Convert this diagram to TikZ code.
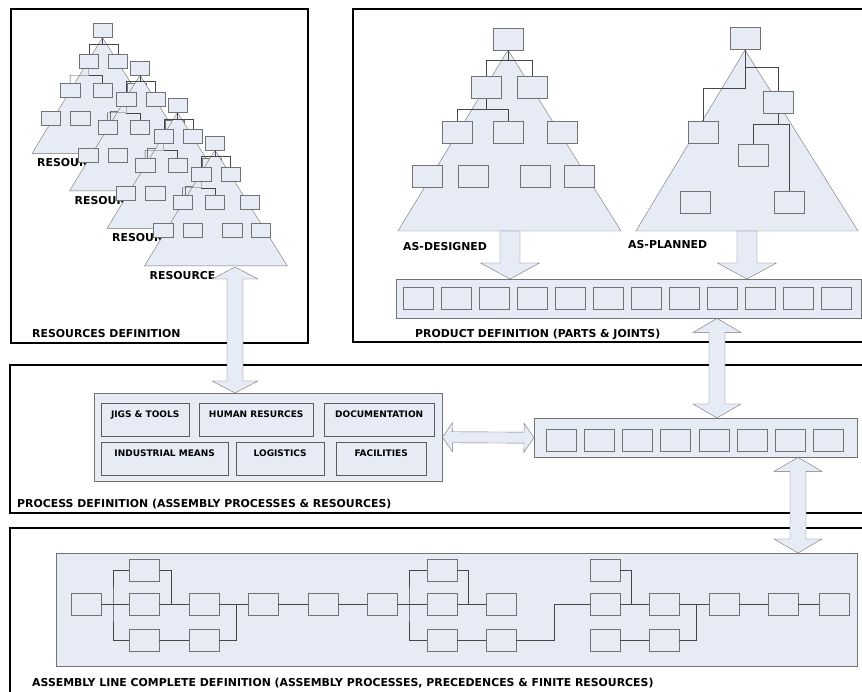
\documentclass[tikz,border=0pt]{standalone}
\usepackage{fontspec}
\setmainfont{DejaVu Sans}
\usetikzlibrary{calc}
\definecolor{pale}{RGB}{230,235,246}
\definecolor{edgegray}{RGB}{115,115,115}
\definecolor{linkgray}{RGB}{70,70,70}
\newcommand{\onefat}[5]{%
  \path (#1) coordinate (fa) (#2) coordinate (fb);
  \path ($(fb)!#5!(fa)$) coordinate (fc);
  \draw[fat] ($(fa)!#3!90:(fb)$) -- ($(fc)!#3!-90:(fa)$) -- ($(fc)!#4!-90:(fa)$) -- (fb)
    -- ($(fc)!#4!90:(fa)$) -- ($(fc)!#3!90:(fa)$) -- ($(fa)!#3!-90:(fb)$) -- cycle;}
\newcommand{\dblfat}[5]{%
  \path (#1) coordinate (fa) (#2) coordinate (fb);
  \path ($(fa)!#5!(fb)$) coordinate (fc) ($(fb)!#5!(fa)$) coordinate (fd);
  \draw[fat] (fa) -- ($(fc)!#4!90:(fb)$) -- ($(fc)!#3!90:(fb)$) -- ($(fd)!#3!-90:(fa)$)
    -- ($(fd)!#4!-90:(fa)$) -- (fb) -- ($(fd)!#4!90:(fa)$) -- ($(fd)!#3!90:(fa)$)
    -- ($(fc)!#3!-90:(fb)$) -- ($(fc)!#4!-90:(fb)$) -- cycle;}
\tikzset{box/.style={draw=edgegray, fill=pale, minimum width=30pt, minimum height=22pt, inner sep=0pt},
  tri/.style={draw=edgegray, fill=pale},
  link/.style={draw=linkgray},
  fat/.style={draw=edgegray, fill=pale},
  frame/.style={draw=black, line width=1.5pt},
  bar/.style={draw=edgegray, fill=pale, inner sep=0pt, anchor=north west},
  lbl/.style={anchor=west, inner sep=0pt, font=\bfseries\fontsize{10.9}{12}\selectfont},
  unit/.style={draw=edgegray!80!black, fill=pale, anchor=north west, inner xsep=0pt, inner ysep=0pt,
    text height=14pt, text depth=19pt, font=\bfseries\fontsize{9}{10}\selectfont},
  designtree/.pic={
    \draw[tri] (0,0) -- (-110,181) -- (113,181) -- cycle;
    \node[box] (-t) at (0,-11) {};
    \node[box] (-a) at (-21.5,37.5) {};
    \node[box] (-b) at (24,37.5) {};
    \node[box] (-c) at (-50.5,82) {};
    \node[box] (-d) at (0,82) {};
    \node[box] (-e) at (54,82) {};
    \node[box] (-f) at (-81,126) {};
    \node[box] (-g) at (-35,126) {};
    \node[box] (-h) at (27,126) {};
    \node[box] (-i) at (71,126) {};
    \draw[link] (-t.south) -- (0,10) -| (-a.north);
    \draw[link] (0,10) -| (-b.north);
    \draw[link] (-a.south) -- (-21.5,59) -| (-c.north);
    \draw[link] (-21.5,59) -| (-d.north);
  }}

\begin{document}
\begin{tikzpicture}[x=1pt, y=-1pt]
  \useasboundingbox (0,0) rectangle (862,692);
  \clip (0,0) rectangle (862,692);
  \draw[frame] (11,9) rectangle (308,343);
  \draw[frame] (353,9) rectangle (880,342);
  \draw[frame] (10,365) rectangle (880,513);
  \draw[frame] (10,528) rectangle (880,710);
  \node[lbl] (resdef) at (32,334) {RESOURCES DEFINITION};
  \node[lbl] (proddef) at (415,334) {PRODUCT DEFINITION (PARTS \& JOINTS)};
  \node[lbl] (procdef) at (17,504) {PROCESS DEFINITION (ASSEMBLY PROCESSES \& RESOURCES)};
  \node[lbl] (linedef) at (32,683) {ASSEMBLY LINE COMPLETE DEFINITION (ASSEMBLY PROCESSES, PRECEDENCES \& FINITE RESOURCES)};

  \foreach \k in {0,...,3} {
    \pic[scale=0.64, transform shape] (res\k) at (102.5+37.5*\k, 37.5+37.5*\k) {designtree};
    \node[lbl] (restag\k) at (37+37.5*\k, 163+37.5*\k) {RESOURCE};
  }

  \pic (des) at (508,50) {designtree};
  \node[lbl] (destag) at (403,247) {AS-DESIGNED};

  \draw[tri] (745,50) -- (636,231) -- (858,231) -- cycle;
  \node[box] (pt) at (745,38.5) {};
  \node[box] (pr) at (778,102) {};
  \node[box] (pl) at (703,132) {};
  \node[box] (pm) at (753.5,155) {};
  \node[box] (pbl) at (695,202) {};
  \node[box] (pbr) at (789,202) {};
  \draw[link] (pt.south) -- (745,88) -| (pl.north);
  \draw[link] (745,67) -| (pr.north);
  \draw[link] (pr.south) -- (778,124) -| (pbr.north);
  \draw[link] (778,124) -| (pm.north);
  \node[lbl] (plantag) at (628,245) {AS-PLANNED};

  \node[bar, minimum width=465pt, minimum height=39pt] (parts) at (396,279) {};
  \foreach \i in {0,...,11}
    \node[box, anchor=north west] (part\i) at (403+38*\i,287) {};

  \node[bar, minimum width=323pt, minimum height=39pt] (procbar) at (534,418) {};
  \foreach \i in {0,...,7}
    \node[box, anchor=north west] (op\i) at (546+38.15*\i,429) {};

  \node[bar, minimum width=348pt, minimum height=88pt] (resbox) at (94,393) {};
  \node[unit, minimum width=88pt] (jigs) at (101,403) {JIGS \& TOOLS};
  \node[unit, minimum width=114pt] (human) at (199,403) {HUMAN RESURCES};
  \node[unit, minimum width=110pt] (docs) at (324,403) {DOCUMENTATION};
  \node[unit, minimum width=127pt] (means) at (101,442) {INDUSTRIAL MEANS};
  \node[unit, minimum width=88pt] (logis) at (236,442) {LOGISTICS};
  \node[unit, minimum width=90pt] (facil) at (336,442) {FACILITIES};

  \node[bar, minimum width=801pt, minimum height=113pt] (line) at (56,553) {};
  \node[box] (a1) at (86,604) {};
  \node[box] (b-top) at (144,570) {};
  \node[box] (b-mid) at (144,604) {};
  \node[box] (b-bot) at (144,640) {};
  \node[box] (c-mid) at (204,604) {};
  \node[box] (c-bot) at (204,640) {};
  \node[box] (d1) at (263,604) {};
  \node[box] (e1) at (323,604) {};
  \node[box] (f1) at (382,604) {};
  \node[box] (g-top) at (442,570) {};
  \node[box] (g-mid) at (442,604) {};
  \node[box] (g-bot) at (442,640) {};
  \node[box] (h-mid) at (501,604) {};
  \node[box] (h-bot) at (501,640) {};
  \node[box] (i-top) at (605,570) {};
  \node[box] (i-mid) at (605,604) {};
  \node[box] (i-bot) at (605,640) {};
  \node[box] (j-mid) at (664,604) {};
  \node[box] (j-bot) at (664,640) {};
  \node[box] (k1) at (724,604) {};
  \node[box] (l1) at (783,604) {};
  \node[box] (m1) at (834,604) {};

  \coordinate (bus1) at (113,604);
  \coordinate (bus2) at (409,604);
  \draw[link] (a1) -- (b-mid);
  \draw[link] (b-top.west) -| (bus1) |- (b-bot.west);
  \draw[link] (b-top.east) -| (171,604);
  \draw[link] (b-mid) -- (c-mid);
  \draw[link] (b-bot) -- (c-bot);
  \draw[link] (c-mid) -- (d1);
  \draw[link] (c-bot.east) -| (236,604);
  \draw[link] (d1) -- (e1);
  \draw[link] (e1) -- (f1);
  \draw[link] (f1) -- (g-mid);
  \draw[link] (g-top.west) -| (bus2) |- (g-bot.west);
  \draw[link] (g-top.east) -| (468,604);
  \draw[link] (g-mid) -- (h-mid);
  \draw[link] (g-bot) -- (h-bot);
  \draw[link] (h-bot.east) -| (554,604) -- (i-mid.west);
  \draw[link] (i-top.east) -| (631,604);
  \draw[link] (i-mid) -- (j-mid);
  \draw[link] (i-bot) -- (j-bot);
  \draw[link] (j-bot.east) -| (696,604);
  \draw[link] (j-mid) -- (k1);
  \draw[link] (k1) -- (l1);
  \draw[link] (l1) -- (m1);

  \coordinate (dfoot) at (510,231);
  \coordinate (pfoot) at (747,231);
  \coordinate (rfoot) at (235,267);
  \coordinate (pp) at (717,0);
  \coordinate (pa) at (798,0);
  \onefat{dfoot}{dfoot |- parts.north}{10pt}{29.5pt}{16pt}
  \onefat{pfoot}{pfoot |- parts.north}{10pt}{29.5pt}{16pt}
  \dblfat{rfoot}{rfoot |- resbox.north}{8pt}{23pt}{12pt}
  \dblfat{pp |- parts.south}{pp |- procbar.north}{8pt}{24pt}{14pt}
  \dblfat{resbox.east}{procbar.west}{5.5pt}{14.5pt}{10pt}
  \dblfat{pa |- procbar.south}{pa |- line.north}{8pt}{24pt}{14pt}
\end{tikzpicture}
\end{document}
